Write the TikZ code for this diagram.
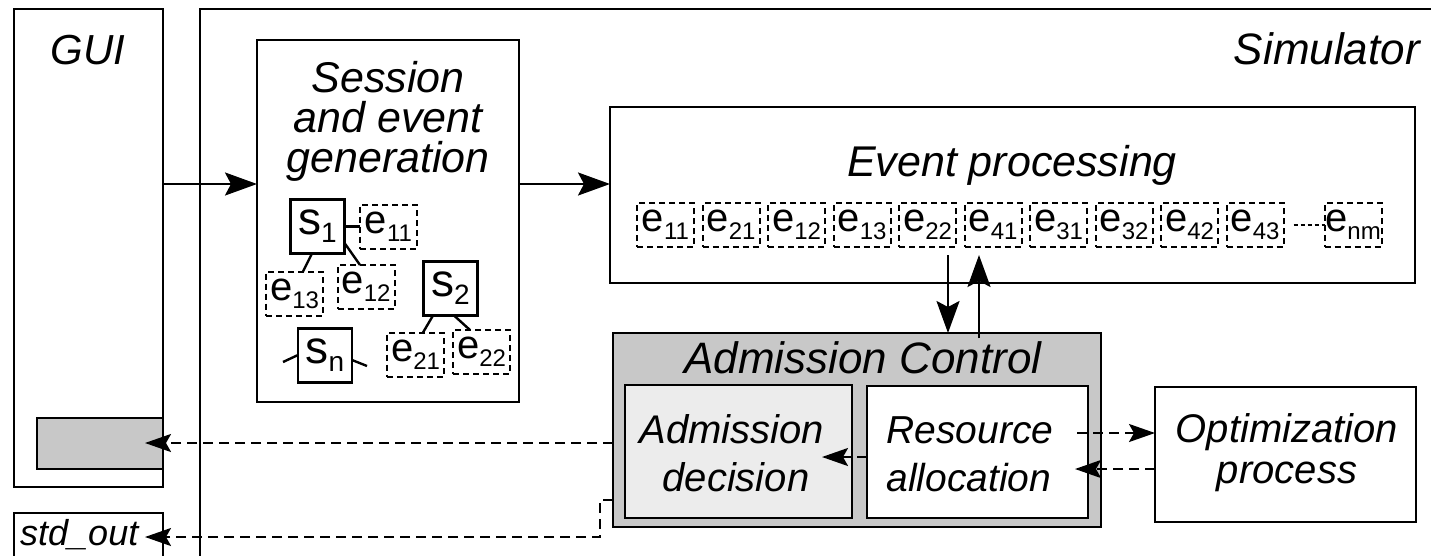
\documentclass[tikz,border=0pt]{standalone}
\usepackage{fontspec}
\setmainfont{Liberation Sans}
\usetikzlibrary{arrows.meta,fit}
\definecolor{acgray}{RGB}{200,200,200}
\definecolor{adgray}{RGB}{236,236,236}
\newcommand\evt[1]{{\fontsize{40}{40}\selectfont e}\raisebox{-8pt}{\fontsize{24}{24}\selectfont #1}}
\newcommand\sv[1]{{\fontsize{46}{46}\selectfont s}\raisebox{-8pt}{\fontsize{28}{28}\selectfont #1}}
\tikzset{
  box/.style={draw, line width=2.7pt, inner sep=0pt, outer sep=0pt},
  evbox/.style={draw, line width=2pt, dash pattern=on 6pt off 4pt, minimum width=57pt, minimum height=44pt, inner sep=0pt, outer sep=0pt},
  sbox/.style={draw, line width=2.4pt, minimum width=54pt, minimum height=54pt, inner sep=0pt, outer sep=0pt},
  lbl/.style={inner sep=0pt, anchor=base, font=\fontsize{43}{43}\selectfont\itshape},
  lblm/.style={inner sep=0pt, anchor=base, font=\fontsize{40}{40}\selectfont\itshape},
  arr/.style={line width=2.4pt, -{Stealth[length=32pt,width=23pt,inset=6pt]}},
  darr/.style={line width=2.2pt, dash pattern=on 10pt off 6pt, -{Stealth[length=26pt,width=18pt,inset=5pt]}},
  conn/.style={line width=2.4pt},
}
\begin{document}
\begin{tikzpicture}[x=1pt,y=-1pt]
\useasboundingbox (0,0) rectangle (1431,555);
\clip (0,0) rectangle (1431,555);
\fill[white] (0,0) rectangle (1431,555);
% outer boxes
\node[box, fit={(200,9) (1460,580)}] (sim) {};
\node[box, fit={(14,9) (163,487)}] (gui) {};
\node[box, fill=acgray, fit={(37,418) (163,469)}] (guibar) {};
\node[box, fit={(14,513) (163,580)}] (stdout) {};
\node[box, fit={(257,40) (519,402)}] (sess) {};
\node[box, fit={(610,107) (1415,283)}] (ev) {};
\node[box, fill=acgray, fit={(613,333) (1101,527)}] (ac) {};
\node[box, fill=adgray, fit={(625,385) (852,518)}] (ad) {};
\node[box, fill=white, fit={(867,386) (1088,518)}] (ra) {};
\node[box, fit={(1155,387) (1416,522)}] (opt) {};
% labels
\node[lbl, font=\fontsize{42}{42}\selectfont\itshape] at (88,64) {GUI};
\node[lbl, anchor=base east, font=\fontsize{44}{44}\selectfont\itshape] at (1420,64) {Simulator};
\node[lbl] at (388,92) {Session};
\node[lbl] at (388,132) {and event};
\node[lbl] at (388,172) {generation};
\node[lbl] at (1012,176) {Event processing};
\node[lbl, font=\fontsize{44}{44}\selectfont\itshape] at (863,373) {Admission Control};
\node[lblm] at (732,443) {Admission};
\node[lblm] at (736,491) {decision};
\node[lblm, font=\fontsize{39}{39}\selectfont\itshape] at (970,443) {Resource};
\node[lblm, font=\fontsize{39}{39}\selectfont\itshape] at (969,491) {allocation};
\node[lblm] at (1287,442) {Optimization};
\node[lblm] at (1287,483) {process};
\node[lbl, anchor=base west, font=\fontsize{36}{36}\selectfont\itshape] at (20,545) {std\_out};
% event queue
\foreach \lab [count=\k from 0] in {11,21,12,13,22,41,31,32,42,43}
  \node[evbox] (q\lab) at ({665.5+65.5*\k},225) {\evt{\lab}};
\node[evbox] (qnm) at (1353,225) {\evt{nm}};
\draw[line width=1.6pt, dash pattern=on 4pt off 3pt] ([xshift=10pt]q43.east) -- (qnm.west);
% session contents
\node[sbox] (s1) at (317.5,226.5) {\sv{1}};
\node[evbox] (e11) at (388.5,226.5) {\evt{11}};
\node[evbox] (e13) at (294.5,293.5) {\evt{13}};
\node[evbox] (e12) at (366,287) {\evt{12}};
\node[sbox] (s2) at (450.5,288.5) {\sv{2}};
\node[evbox] (e21) at (415.5,354.5) {\evt{21}};
\node[evbox] (e22) at (481.5,352) {\evt{22}};
\node[sbox] (sn) at (325,355.5) {\sv{n}};
\draw[conn] (s1.east) -- (e11.west);
\draw[conn] (312,0 |- s1.south) -- (303,0 |- e13.north);
\draw[conn] (s1.east |- 0,243) -- (360,0 |- e12.north);
\draw[conn] (433,0 |- s2.south) -- (423,0 |- e21.north);
\draw[conn] (454,0 |- s2.south) -- (470,0 |- e22.north);
\coordinate (snl) at (283,362);
\coordinate (snr) at (367,366);
\draw[conn] (snl) -- (sn.west |- 0,355);
\draw[conn] (sn.east |- 0,360) -- (snr);
% main arrows
\draw[arr] (gui.east |- 0,184) -- (sess.west |- 0,184);
\draw[arr] (sess.east |- 0,184) -- (ev.west |- 0,184);
\coordinate (dn) at (948,255);
\coordinate (up) at (979,255);
\draw[arr] (dn) -- (dn |- ac.north);
\draw[arr] (979,338) -- (up);
% dashed arrows
\coordinate (adin) at (822,457);
\draw[darr] (ra.west |- adin) -- (adin);
\coordinate (rao) at (1077,433);
\coordinate (rai) at (1075,469);
\draw[darr] (rao) -- (opt.west |- rao);
\draw[darr] (opt.west |- rai) -- (rai);
\coordinate (guiin) at (145,443);
\draw[darr] (ac.west |- guiin) -- (guiin);
\coordinate (soin) at (145,537);
\draw[darr] (ac.west |- 0,500) -- (600,500) -- (600,537) -- (soin);
\end{tikzpicture}
\end{document}
